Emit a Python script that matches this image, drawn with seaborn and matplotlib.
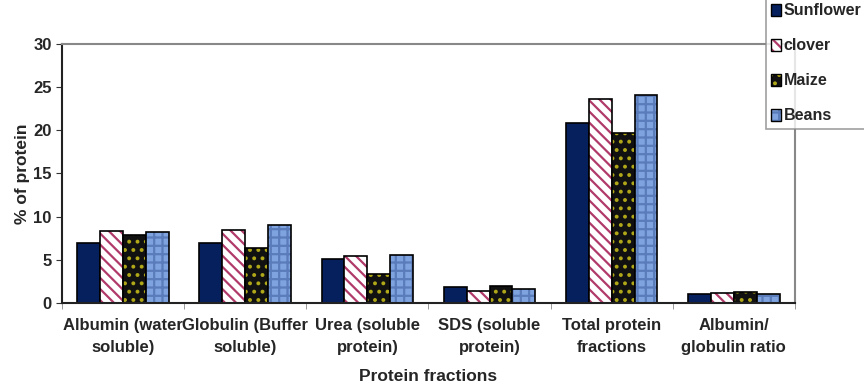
import pandas as pd
import matplotlib
matplotlib.use("Agg")
import matplotlib.pyplot as plt
import seaborn as sns

# data
fractions = ["Albumin (water\nsoluble)", "Globulin (Buffer\nsoluble)", "Urea (soluble\nprotein)",
             "SDS (soluble\nprotein)", "Total protein\nfractions", "Albumin/\nglobulin ratio"]
crops = ["Sunflower", "clover", "Maize", "Beans"]
sunflower = [7.0, 7.0, 5.1, 1.9, 20.8, 1.0]
clover = [8.3, 8.4, 5.4, 1.4, 23.6, 1.1]
maize = [7.9, 6.4, 3.4, 2.0, 19.7, 1.3]
beans = [8.2, 9.0, 5.5, 1.6, 24.1, 1.0]

face_colors = ["#06205e", "#ffffff", "#111111", "#7fa3de"]
hatches = ["", "\\\\\\", "..", "++"]
hatch_colors = ["#06205e", "#b03a6a", "#b0a818", "#5a7cba"]

sns.set_style("white")
plt.rcParams["font.family"] = ["Liberation Sans", "DejaVu Sans"]
plt.rcParams["font.weight"] = "bold"
plt.rcParams["hatch.linewidth"] = 1.6

df = pd.DataFrame({
    "fraction": fractions * 4,
    "crop": [c for c in crops for _ in fractions],
    "value": sunflower + clover + maize + beans,
})

fig = plt.figure(figsize=(8.64, 3.85), dpi=100)
ax = fig.add_axes([0.0718, 0.213, 0.8482, 0.673])

sns.barplot(data=df, x="fraction", y="value", hue="crop", hue_order=crops,
            palette=face_colors, width=0.75, edgecolor="black", linewidth=1.2,
            saturation=1, legend=False, ax=ax)

for i, cont in enumerate(ax.containers):
    for bar in cont:
        bar.set_facecolor(face_colors[i])
        bar.set_hatch(hatches[i])
        bar._hatch_color = matplotlib.colors.to_rgba(hatch_colors[i])

ax.set_xlim(-0.5, 5.5)
ax.set_ylim(0, 30)
ax.set_yticks(range(0, 31, 5))
ax.set_xticks(range(len(fractions)))
ax.set_xticklabels(fractions, fontsize=12, fontweight="bold", linespacing=1.6)
ax.set_xticks([x + 0.5 for x in range(-1, 6)], minor=True)
ax.tick_params(axis="x", which="major", length=0, pad=11)
ax.tick_params(axis="x", which="minor", length=4, color="#888888", direction="out")
ax.tick_params(axis="y", length=4, direction="out", labelsize=12, color="#333333")
ax.yaxis.set_ticks_position("left")
ax.xaxis.set_ticks_position("bottom")
for lab in ax.get_yticklabels():
    lab.set_fontweight("bold")

ax.set_xlabel("Protein fractions", fontsize=12.5, fontweight="bold", labelpad=10)
ax.set_ylabel("% of protein", fontsize=12.5, fontweight="bold", labelpad=2)

for side in ["left", "bottom"]:
    ax.spines[side].set_color("#222222")
    ax.spines[side].set_linewidth(1.5)
for side in ["top", "right"]:
    ax.spines[side].set_color("#888888")
    ax.spines[side].set_linewidth(1.5)

handles = [matplotlib.patches.Patch(facecolor=face_colors[i], edgecolor="black",
                                    hatch=hatches[i]) for i in range(4)]
for i, h in enumerate(handles):
    h._hatch_color = matplotlib.colors.to_rgba(hatch_colors[i])
leg = fig.legend(handles, crops, loc="upper left", bbox_to_anchor=(0.886, 1.006),
                 frameon=True, fancybox=False, handlelength=0.6, handleheight=0.8,
                 handletextpad=0.2, labelspacing=1.25, borderpad=0.35, borderaxespad=0,
                 prop={"weight": "bold", "size": 11.5})
leg.get_frame().set_edgecolor("#888888")
leg.get_frame().set_linewidth(1.2)

fig.savefig("out.png", dpi=100)
